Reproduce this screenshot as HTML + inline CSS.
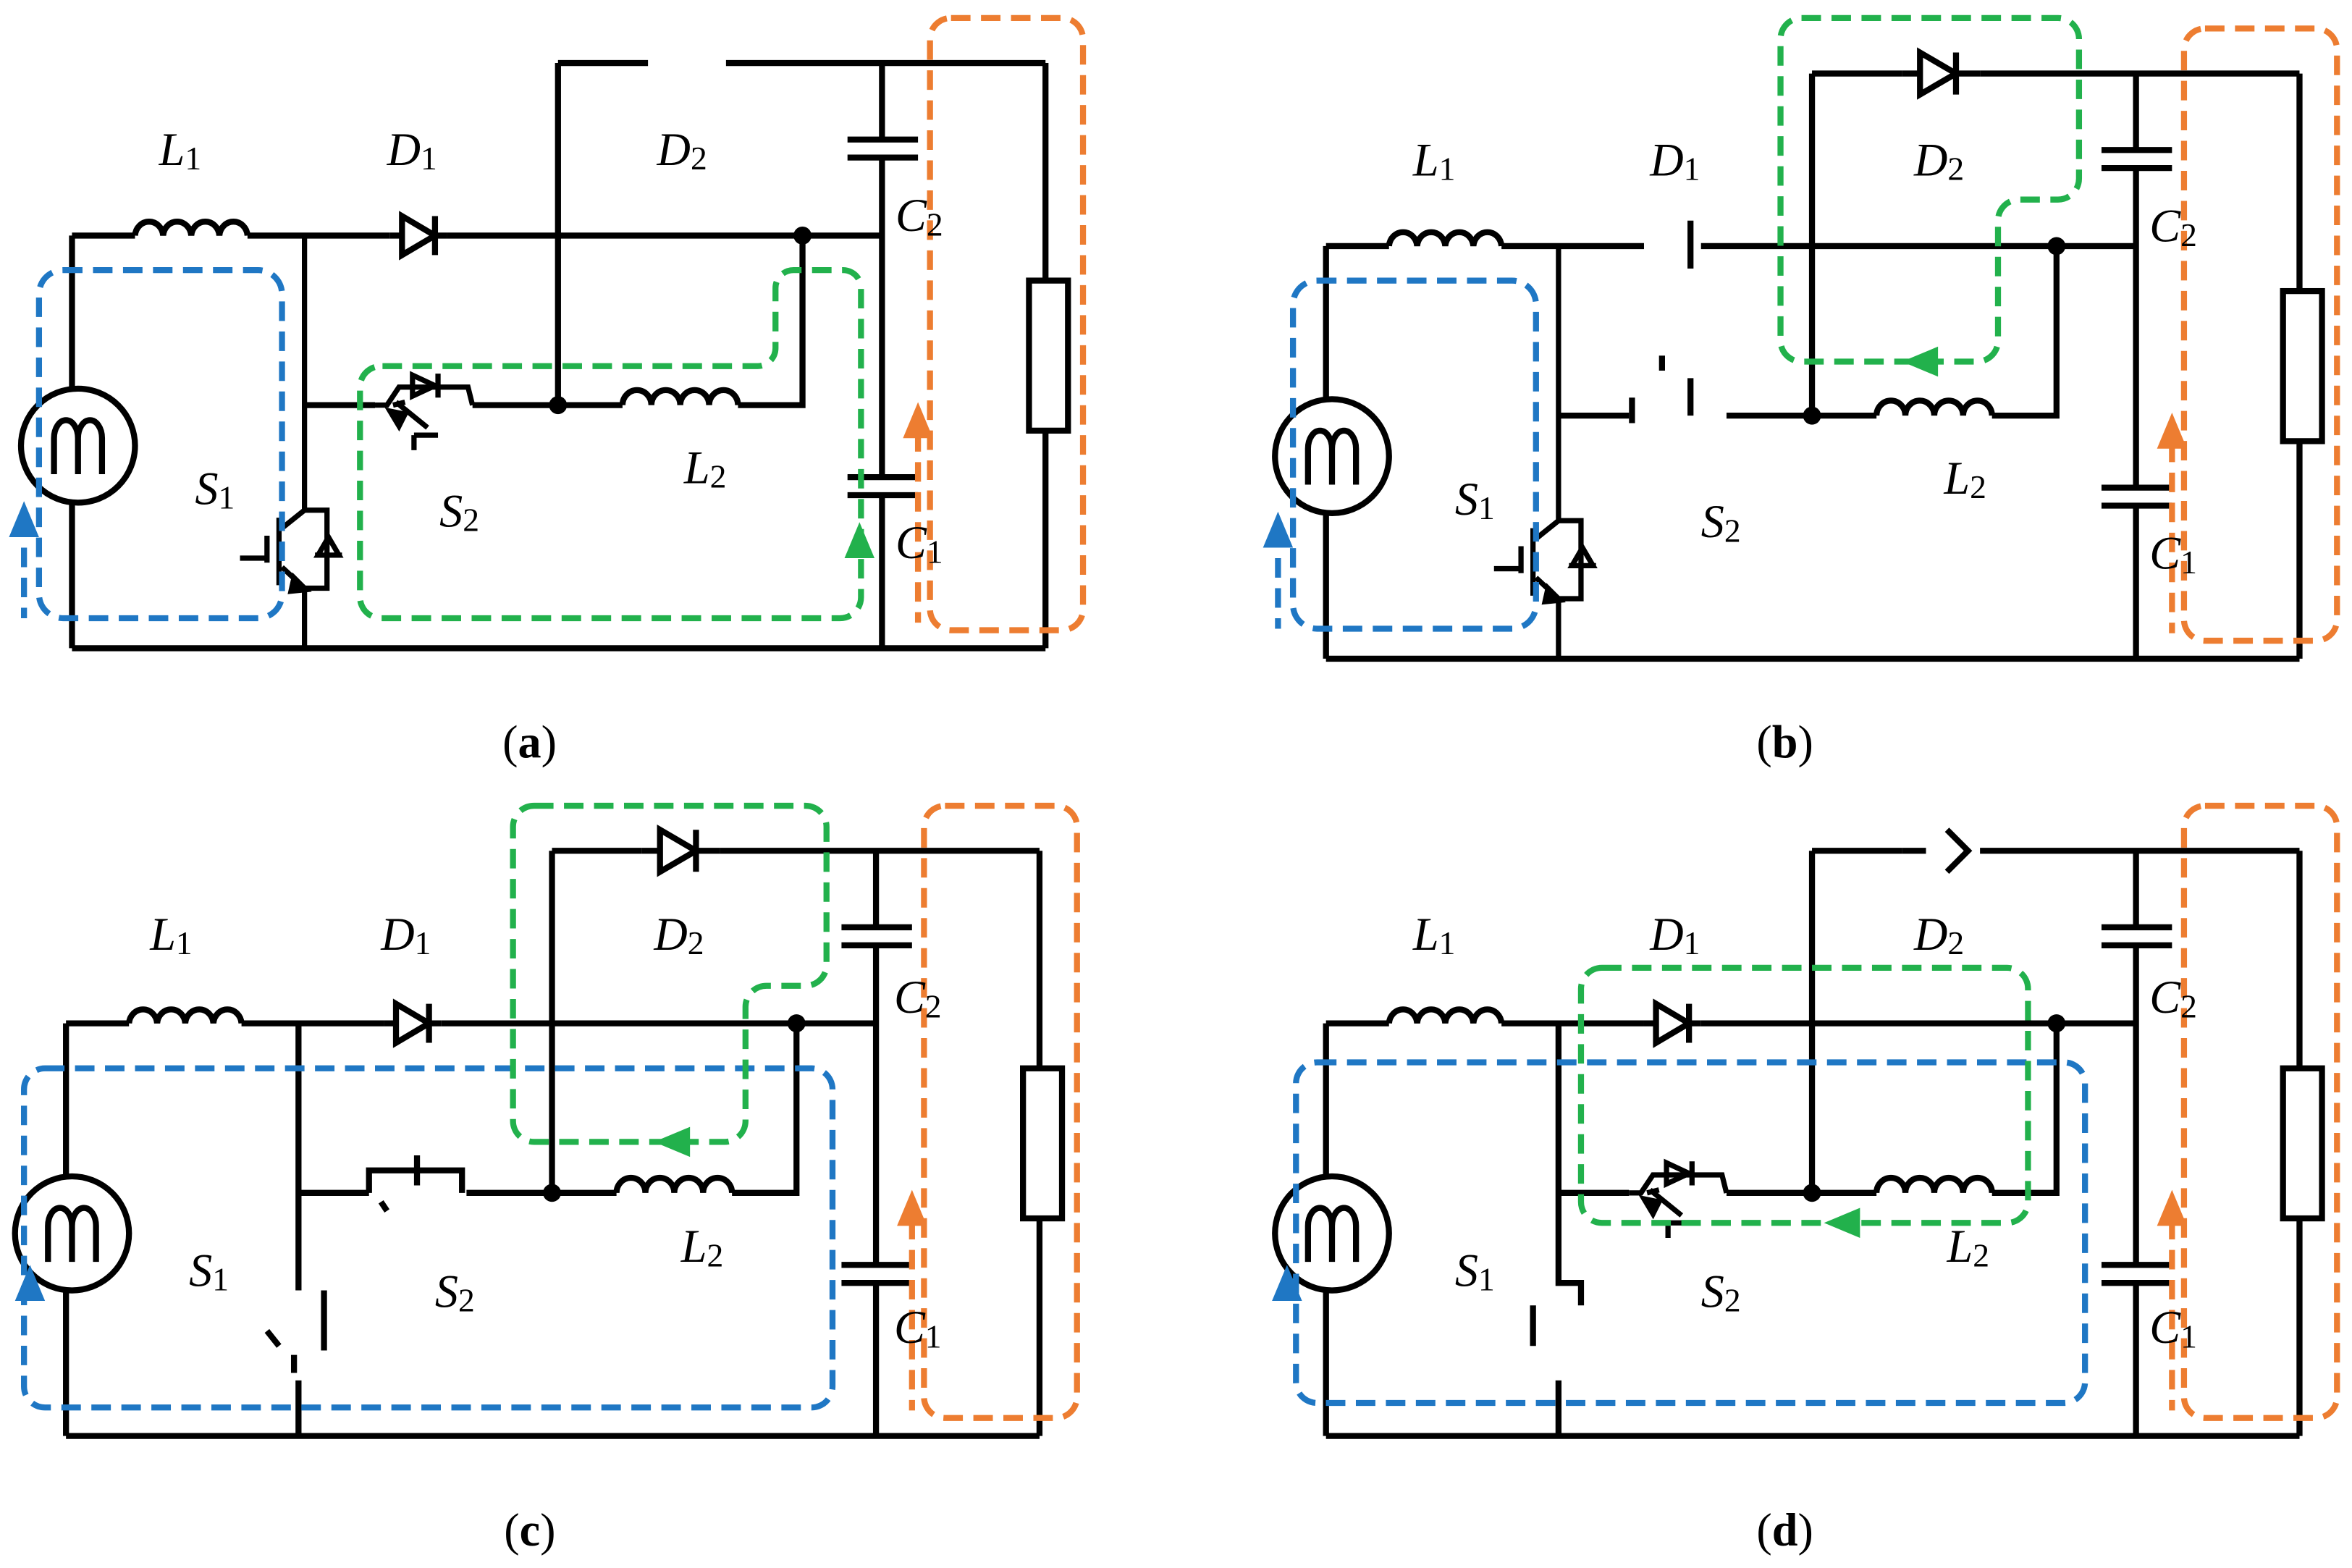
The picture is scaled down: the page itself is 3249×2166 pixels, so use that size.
<!DOCTYPE html>
<html><head><meta charset="utf-8"><style>
html,body{margin:0;padding:0;background:#fff}
svg{display:block}
text{font-family:"Liberation Serif",serif;font-size:31px;fill:#000}
.i{font-style:italic}
</style></head><body>
<svg width="3249" height="2166" viewBox="0 0 1568 1045" preserveAspectRatio="none" xmlns="http://www.w3.org/2000/svg">
<defs>
<g id="common" fill="none" stroke="#000" stroke-width="4">
  <path d="M48 157V432M48 157H90M165 157H260M298 157H588M48 432H697"/>
  <path d="M90 157a9.4 10 0 0 1 18.75 0a9.4 10 0 0 1 18.75 0a9.4 10 0 0 1 18.75 0a9.4 10 0 0 1 18.75 0"/>
  <path d="M588 42V93M588 105V318M588 330V432M565 93H612M565 105H612M565 318H612M565 330H612"/>
  <path d="M697 42V187M697 287V432"/>
  <rect x="686" y="187" width="26" height="100"/>
  <path d="M372 42H432M484 42H697M372 42V270M315 270H415M492 270H535V157M203 270H250"/>
  <path d="M415 270a9.6 10 0 0 1 19.25 0a9.6 10 0 0 1 19.25 0a9.6 10 0 0 1 19.25 0a9.6 10 0 0 1 19.25 0"/>
  <circle cx="52" cy="297" r="38" fill="#fff"/>
  <path d="M36 316V292a8 12 0 0 1 16 0V316M52 292a8 12 0 0 1 16 0V316" stroke-width="4"/>
  <circle cx="372" cy="270" r="6" fill="#000" stroke="none"/>
  <circle cx="535" cy="157" r="6" fill="#000" stroke="none"/>
  <path d="M622 40V410a12 12 0 0 0 12 12H708a12 12 0 0 0 12-12V24a12 12 0 0 0-12-12H634a12 12 0 0 0-12 12Z" stroke="#ed7d31" stroke-dasharray="14 8" opacity="0"/>
  <path d="M634 12H708a14 14 0 0 1 14 14V406a14 14 0 0 1-14 14H634a14 14 0 0 1-14-14V26a14 14 0 0 1 14-14Z" stroke="#ed7d31" stroke-dasharray="13 7"/>
  <path d="M612 288V415" stroke="#ed7d31" stroke-dasharray="13 7"/>
  <path d="M602 292L612 268L622 292Z" fill="#ed7d31" stroke="none"/>
  <path d="M16 345V412H48" stroke="#1f77c4" stroke-dasharray="13 7" opacity="0"/>
</g>
<g id="d1" fill="none" stroke="#000" stroke-width="4">
  <path d="M260 157H298"/><path d="M268 144V170L290 157Z" fill="#fff"/><path d="M290 144V170"/>
</g>
<g id="d2" fill="none" stroke="#000" stroke-width="4">
  <path d="M432 42H484"/><path d="M444 28V56L468 42Z" fill="#fff"/><path d="M468 28V56"/>
</g>
<g id="s2" fill="none" stroke="#000" stroke-width="3.5">
  <path d="M250 270H258L266 258H312L315 270"/>
  <path d="M275 250V264L290 257Z"/><path d="M292 249V265"/>
  <path d="M264 268L285 285M262 270L270 268M276 290H292M276 290V300"/>
  <path d="M260 274L270 276L266 284Z" fill="#000"/>
</g>
<g id="s1" fill="none" stroke="#000" stroke-width="3.5">
  <path d="M203 157V340L188 352M188 378L203 392V432M186 345V390M160 372H178M178 357V375"/>
  <path d="M196 385L204 393L194 394Z" fill="#000"/>
  <path d="M203 340H218V392H203M210 370H228M212 370L219 358L226 370Z"/>
</g>
</defs>

<!-- (a) -->
<g>
  <use href="#common"/><use href="#d1"/><use href="#s2"/><use href="#s1"/>
  <g fill="none" stroke-width="4" stroke-dasharray="13 7">
    <path d="M42 180H172a16 16 0 0 1 16 16V396a16 16 0 0 1-16 16H42a16 16 0 0 1-16-16V196a16 16 0 0 1 16-16Z" stroke="#1f77c4"/>
    <path d="M16 345V412" stroke="#1f77c4"/>
    <path d="M255 244H505a12 12 0 0 0 12-12V192a12 12 0 0 1 12-12H562a12 12 0 0 1 12 12V398a14 14 0 0 1-14 14H254a14 14 0 0 1-14-14V258a14 14 0 0 1 14-14Z" stroke="#22b14c"/>
  </g>
  <path d="M6 358L16 334L26 358Z" fill="#1f77c4"/>
  <path d="M563 372L573 348L583 372Z" fill="#22b14c"/>
  <text x="106" y="110" class="i">L<tspan font-size="22" font-style="normal" dy="3">1</tspan></text>
  <text x="258" y="110" class="i">D<tspan font-size="22" font-style="normal" dy="3">1</tspan></text>
  <text x="438" y="110" class="i">D<tspan font-size="22" font-style="normal" dy="3">2</tspan></text>
  <text x="597" y="154" class="i">C<tspan font-size="22" font-style="normal" dy="3">2</tspan></text>
  <text x="597" y="372" class="i">C<tspan font-size="22" font-style="normal" dy="3">1</tspan></text>
  <text x="130" y="336" class="i">S<tspan font-size="22" font-style="normal" dy="3">1</tspan></text>
  <text x="293" y="351" class="i">S<tspan font-size="22" font-style="normal" dy="3">2</tspan></text>
  <text x="456" y="322" class="i">L<tspan font-size="22" font-style="normal" dy="3">2</tspan></text>
  <text x="335" y="505">(<tspan font-weight="bold">a</tspan>)</text>
</g>

<!-- (b) -->
<g transform="translate(836,7)">
  <use href="#common"/><use href="#d2"/><use href="#s1"/>
  <path d="M291 140V172M272 230V240M252 258V275M291 245V270" stroke="#000" stroke-width="4"/>
  <g fill="none" stroke-width="4" stroke-dasharray="13 7">
    <path d="M42 180H172a16 16 0 0 1 16 16V396a16 16 0 0 1-16 16H42a16 16 0 0 1-16-16V196a16 16 0 0 1 16-16Z" stroke="#1f77c4"/>
    <path d="M16 345V412" stroke="#1f77c4"/>
    <path d="M365 5H536a14 14 0 0 1 14 14V112a14 14 0 0 1-14 14H510a14 14 0 0 0-14 14V220a14 14 0 0 1-14 14H365a14 14 0 0 1-14-14V19a14 14 0 0 1 14-14Z" stroke="#22b14c"/>
  </g>
  <path d="M6 358L16 334L26 358Z" fill="#1f77c4"/>
  <path d="M432 234L456 224L456 244Z" fill="#22b14c"/>
  <text x="106" y="110" class="i">L<tspan font-size="22" font-style="normal" dy="3">1</tspan></text>
  <text x="264" y="110" class="i">D<tspan font-size="22" font-style="normal" dy="3">1</tspan></text>
  <text x="440" y="110" class="i">D<tspan font-size="22" font-style="normal" dy="3">2</tspan></text>
  <text x="597" y="154" class="i">C<tspan font-size="22" font-style="normal" dy="3">2</tspan></text>
  <text x="597" y="372" class="i">C<tspan font-size="22" font-style="normal" dy="3">1</tspan></text>
  <text x="134" y="336" class="i">S<tspan font-size="22" font-style="normal" dy="3">1</tspan></text>
  <text x="298" y="351" class="i">S<tspan font-size="22" font-style="normal" dy="3">2</tspan></text>
  <text x="460" y="322" class="i">L<tspan font-size="22" font-style="normal" dy="3">2</tspan></text>
  <text x="335" y="498">(<tspan font-weight="bold">b</tspan>)</text>
</g>

<!-- (c) -->
<g transform="translate(-4,525)">
  <use href="#common"/><use href="#d1"/><use href="#d2"/>
  <path d="M203 157V335M203 395V432M220 335V375M182 362L190 372M200 378V390M250 270V255H262M282 245V265M262 255H312V270M258 276L262 282" fill="none" stroke="#000" stroke-width="4"/>
  <g fill="none" stroke-width="4" stroke-dasharray="13 7">
    <path d="M34 187H545a14 14 0 0 1 14 14V399a14 14 0 0 1-14 14H34a14 14 0 0 1-14-14V201a14 14 0 0 1 14-14Z" stroke="#1f77c4"/>
    <path d="M360 12H541a14 14 0 0 1 14 14V118a14 14 0 0 1-14 14H515a14 14 0 0 0-14 14V222a14 14 0 0 1-14 14H360a14 14 0 0 1-14-14V26a14 14 0 0 1 14-14Z" stroke="#22b14c"/>
  </g>
  <path d="M14 342L24 318L34 342Z" fill="#1f77c4"/>
  <path d="M440 236L464 226L464 246Z" fill="#22b14c"/>
  <text x="104" y="108" class="i">L<tspan font-size="22" font-style="normal" dy="3">1</tspan></text>
  <text x="258" y="108" class="i">D<tspan font-size="22" font-style="normal" dy="3">1</tspan></text>
  <text x="440" y="108" class="i">D<tspan font-size="22" font-style="normal" dy="3">2</tspan></text>
  <text x="600" y="150" class="i">C<tspan font-size="22" font-style="normal" dy="3">2</tspan></text>
  <text x="600" y="370" class="i">C<tspan font-size="22" font-style="normal" dy="3">1</tspan></text>
  <text x="130" y="332" class="i">S<tspan font-size="22" font-style="normal" dy="3">1</tspan></text>
  <text x="294" y="346" class="i">S<tspan font-size="22" font-style="normal" dy="3">2</tspan></text>
  <text x="458" y="316" class="i">L<tspan font-size="22" font-style="normal" dy="3">2</tspan></text>
  <text x="340" y="505">(<tspan font-weight="bold">c</tspan>)</text>
</g>

<!-- (d) -->
<g transform="translate(836,525)">
  <use href="#common"/><use href="#d1"/><use href="#s2"/>
  <path d="M203 157V330H218V345M186 345V372M203 395V432M432 42H448M462 28L476 42L462 56" fill="none" stroke="#000" stroke-width="4"/>
  <g fill="none" stroke-width="4" stroke-dasharray="13 7">
    <path d="M42 183H540a14 14 0 0 1 14 14V396a14 14 0 0 1-14 14H42a14 14 0 0 1-14-14V197a14 14 0 0 1 14-14Z" stroke="#1f77c4"/>
    <path d="M232 120H502a14 14 0 0 1 14 14V276a14 14 0 0 1-14 14H232a14 14 0 0 1-14-14V134a14 14 0 0 1 14-14Z" stroke="#22b14c"/>
  </g>
  <path d="M12 342L22 318L32 342Z" fill="#1f77c4"/>
  <path d="M380 290L404 280L404 300Z" fill="#22b14c"/>
  <text x="106" y="108" class="i">L<tspan font-size="22" font-style="normal" dy="3">1</tspan></text>
  <text x="264" y="108" class="i">D<tspan font-size="22" font-style="normal" dy="3">1</tspan></text>
  <text x="440" y="108" class="i">D<tspan font-size="22" font-style="normal" dy="3">2</tspan></text>
  <text x="597" y="150" class="i">C<tspan font-size="22" font-style="normal" dy="3">2</tspan></text>
  <text x="597" y="370" class="i">C<tspan font-size="22" font-style="normal" dy="3">1</tspan></text>
  <text x="134" y="332" class="i">S<tspan font-size="22" font-style="normal" dy="3">1</tspan></text>
  <text x="298" y="346" class="i">S<tspan font-size="22" font-style="normal" dy="3">2</tspan></text>
  <text x="462" y="316" class="i">L<tspan font-size="22" font-style="normal" dy="3">2</tspan></text>
  <text x="335" y="505">(<tspan font-weight="bold">d</tspan>)</text>
</g>
</svg>
</body></html>
